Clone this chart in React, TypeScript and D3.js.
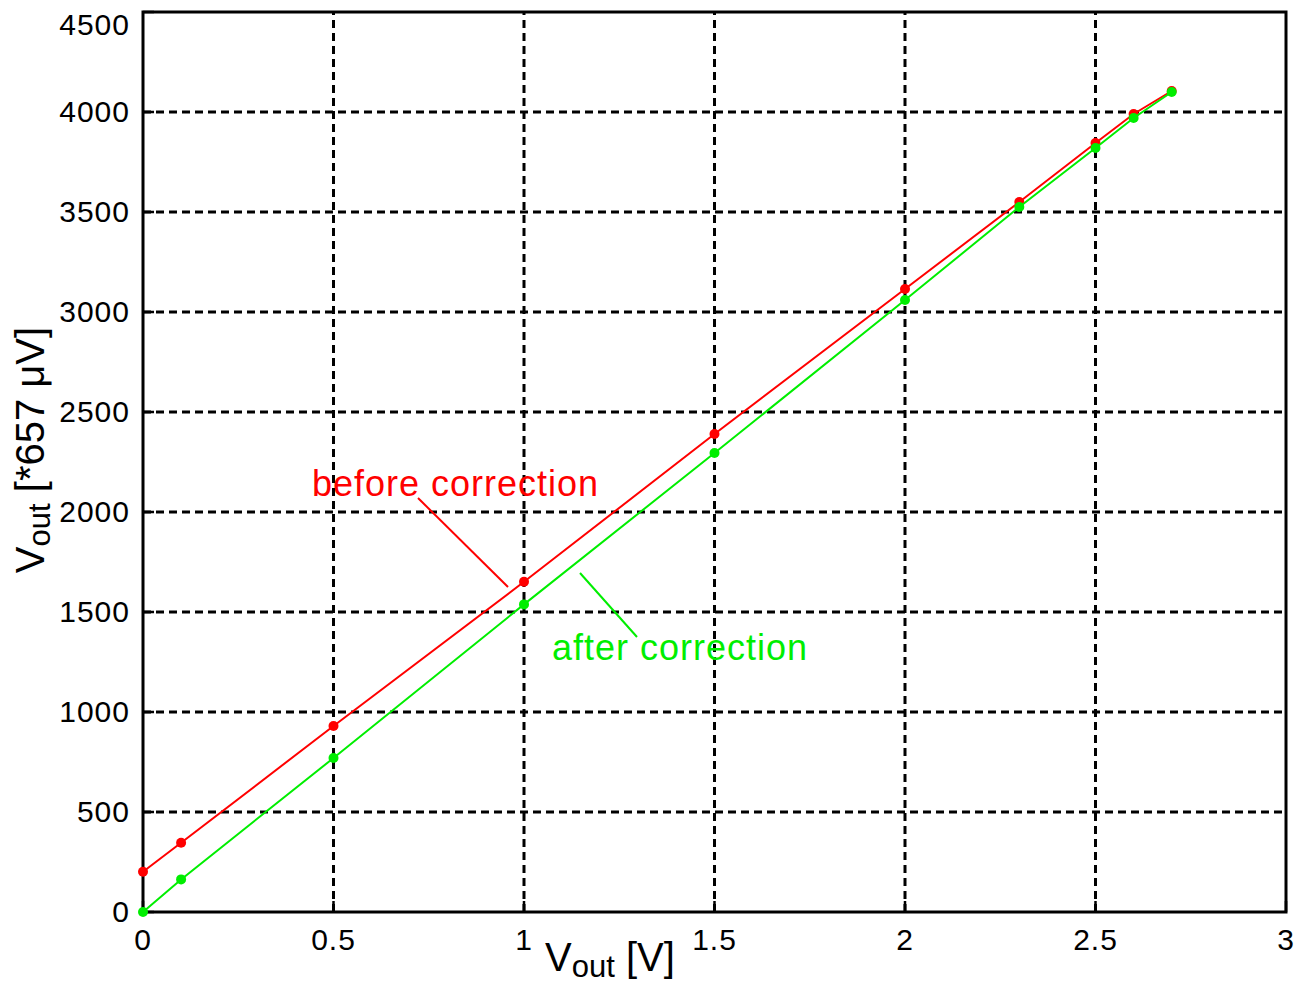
import React, { useEffect, useRef } from 'react';
import * as d3 from 'd3';

// measured input voltage [V]
const xsBefore = [0, 0.1, 0.5, 1, 1.5, 2, 2.3, 2.5, 2.6, 2.7];
const ysBefore = [201, 346, 930, 1651, 2390, 3115, 3550, 3845, 3990, 4105];
const xsAfter = [0, 0.1, 0.5, 1, 1.5, 2, 2.3, 2.5, 2.6, 2.7];
const ysAfter = [0, 163, 770, 1538, 2295, 3060, 3525, 3820, 3970, 4100];

const xTicks = [0, 0.5, 1, 1.5, 2, 2.5, 3];
const yTicks = [0, 500, 1000, 1500, 2000, 2500, 3000, 3500, 4000, 4500];

const RED = '#ff0000';
const GREEN = '#00ee00';
const FONT = '"Liberation Sans", Arial, sans-serif';

const App: React.FC = () => {
  const svgRef = useRef<SVGSVGElement>(null);

  useEffect(() => {
    if (!svgRef.current) return;
    const svg = d3.select(svgRef.current);
    svg.selectAll('*').remove();

    const left = 143, right = 1286, top = 12, bottom = 912;
    const x = d3.scaleLinear().domain([0, 3]).range([left, right]);
    const y = d3.scaleLinear().domain([0, 4500]).range([bottom, top]);

    svg.append('rect').attr('width', 1304).attr('height', 989).attr('fill', '#fff');

    // grid
    const grid = svg.append('g').attr('stroke', '#000').attr('stroke-width', 3)
      .attr('stroke-dasharray', '8,5');
    xTicks.slice(1, -1).forEach(t => {
      grid.append('line').attr('x1', x(t)).attr('x2', x(t)).attr('y1', bottom).attr('y2', top);
    });
    yTicks.slice(1, -1).forEach(t => {
      grid.append('line').attr('x1', left).attr('x2', right).attr('y1', y(t)).attr('y2', y(t));
    });

    // ticks (inside)
    const ticks = svg.append('g').attr('stroke', '#000').attr('stroke-width', 2.5);
    xTicks.forEach(t => {
      ticks.append('line').attr('x1', x(t)).attr('x2', x(t)).attr('y1', bottom).attr('y2', bottom - 11);
    });
    yTicks.forEach(t => {
      ticks.append('line').attr('x1', left).attr('x2', left + 11).attr('y1', y(t)).attr('y2', y(t));
    });

    // box
    svg.append('rect').attr('x', left).attr('y', top)
      .attr('width', right - left).attr('height', bottom - top)
      .attr('fill', 'none').attr('stroke', '#000').attr('stroke-width', 3);

    // tick labels
    svg.append('g').selectAll('text').data(xTicks).join('text')
      .attr('x', d => x(d)).attr('y', 950)
      .attr('text-anchor', 'middle')
      .attr('font-family', FONT).attr('font-size', 30).attr('letter-spacing', 1)
      .text(d => String(d));
    svg.append('g').selectAll('text').data(yTicks).join('text')
      .attr('x', 130).attr('y', d => Math.max(y(d) + 10, 35))
      .attr('text-anchor', 'end')
      .attr('font-family', FONT).attr('font-size', 30).attr('letter-spacing', 1)
      .text(d => String(d));

    // series
    const line = d3.line<[number, number]>().x(d => x(d[0])).y(d => y(d[1]));
    const drawSeries = (xs: number[], ys: number[], color: string) => {
      const pts: [number, number][] = xs.map((v, i) => [v, ys[i]]);
      svg.append('path').datum(pts).attr('d', line)
        .attr('fill', 'none').attr('stroke', color).attr('stroke-width', 2);
      svg.append('g').selectAll('circle').data(pts).join('circle')
        .attr('cx', d => x(d[0])).attr('cy', d => y(d[1])).attr('r', 5)
        .attr('fill', color);
    };
    drawSeries(xsBefore, ysBefore, RED);
    drawSeries(xsAfter, ysAfter, GREEN);

    // annotations
    svg.append('text').attr('x', 312).attr('y', 496)
      .attr('font-family', FONT).attr('font-size', 36).attr('letter-spacing', 1)
      .attr('fill', RED)
      .text('before correction');
    svg.append('line').attr('x1', 418).attr('y1', 498).attr('x2', 508).attr('y2', 587)
      .attr('stroke', RED).attr('stroke-width', 2);

    svg.append('text').attr('x', 552).attr('y', 660)
      .attr('font-family', FONT).attr('font-size', 36).attr('letter-spacing', 1)
      .attr('fill', GREEN)
      .text('after correction');
    svg.append('line').attr('x1', 580).attr('y1', 573).attr('x2', 637).attr('y2', 637)
      .attr('stroke', GREEN).attr('stroke-width', 2);

    // axis labels
    const xl = svg.append('text').attr('x', 545).attr('y', 971)
      .attr('font-family', FONT).attr('font-size', 40);
    xl.append('tspan').text('V');
    xl.append('tspan').attr('font-size', 31).attr('dy', 6).text('out');
    xl.append('tspan').attr('dy', -6).text(' [V]');

    const yl = svg.append('text')
      .attr('transform', 'translate(44,450) rotate(-90)')
      .attr('text-anchor', 'middle')
      .attr('font-family', FONT).attr('font-size', 40);
    yl.append('tspan').text('V');
    yl.append('tspan').attr('font-size', 31).attr('dy', 6).text('out');
    yl.append('tspan').attr('dy', -6).text(' [*657 \u03bcV]');
  }, []);

  return (
    <svg ref={svgRef} width={1304} height={989}
      style={{ position: 'absolute', left: 0, top: 0, display: 'block' }} />
  );
};

export default App;
